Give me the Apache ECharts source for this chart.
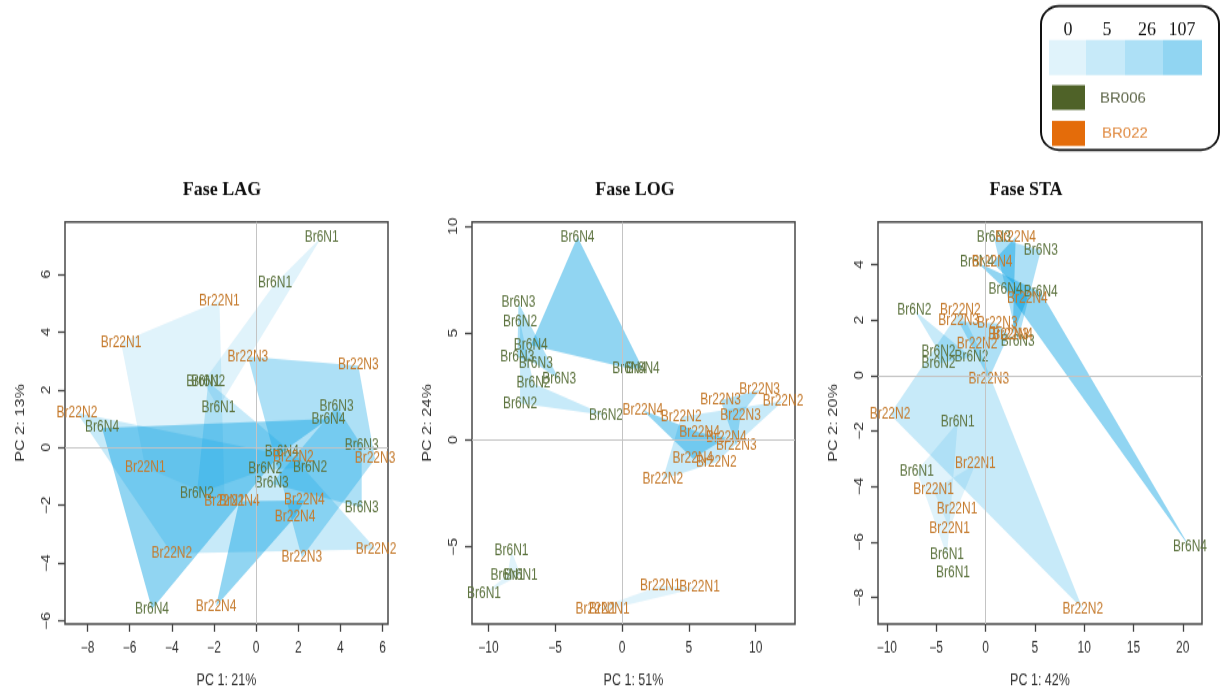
<!DOCTYPE html>
<html>
<head>
<meta charset="utf-8">
<script src="https://cdn.jsdelivr.net/npm/echarts@6/dist/echarts.min.js"></script>
<style>
  html, body { margin: 0; padding: 0; background: #ffffff; overflow: hidden; }
  /* the plot canvas is drawn short and stretched vertically, as the figure panels are */
  #chart { position: absolute; left: 0; top: 0; width: 1222px; height: 532px;
           transform: scaleY(1.3); transform-origin: 0 0; }
</style>
</head>
<body>
<div id="chart"></div>
<script>
// ---------- data: PCA scores [label, PC1, PC2] per growth phase and strain ----------
const lagBR006 = [
  ['Br6N1', 3.11, 7.29], ['Br6N1', 0.90, 5.68], ['Br6N1', -2.51, 2.27], ['Br6N1', -1.79, 1.39],
  ['Br6N2', -2.27, 2.27], ['Br6N2', 2.56, -0.70], ['Br6N2', 0.43, -0.76], ['Br6N2', -2.81, -1.59],
  ['Br6N3', 3.82, 1.42], ['Br6N3', 5.01, 0.07], ['Br6N3', 5.01, -2.08], ['Br6N3', 0.74, -1.25],
  ['Br6N4', -7.31, 0.68], ['Br6N4', 3.43, 0.99], ['Br6N4', 1.22, -0.16], ['Br6N4', -4.94, -5.59]
];
const lagBR022 = [
  ['Br22N1', -1.74, 5.07], ['Br22N1', -6.41, 3.64], ['Br22N1', -5.26, -0.68], ['Br22N1', -1.50, -1.85],
  ['Br22N2', -8.50, 1.20], ['Br22N2', 1.77, -0.32], ['Br22N2', 5.69, -3.52], ['Br22N2', -4.00, -3.66],
  ['Br22N3', -0.39, 3.15], ['Br22N3', 4.85, 2.84], ['Br22N3', 5.64, -0.39], ['Br22N3', 2.17, -3.80],
  ['Br22N4', -0.80, -1.85], ['Br22N4', 2.29, -1.83], ['Br22N4', 1.85, -2.39], ['Br22N4', -1.90, -5.49]
];
const logBR006 = [
  ['Br6N1', -8.27, -5.19], ['Br6N1', -7.58, -6.31], ['Br6N1', -10.33, -7.21], ['Br6N1', -8.57, -6.31],
  ['Br6N2', -7.63, 5.53], ['Br6N2', -6.62, 2.64], ['Br6N2', -1.20, 1.15], ['Br6N2', -7.63, 1.71],
  ['Br6N3', -7.75, 6.42], ['Br6N3', -4.70, 2.84], ['Br6N3', -6.45, 3.57], ['Br6N3', -7.83, 3.88],
  ['Br6N4', -3.33, 9.50], ['Br6N4', 1.55, 3.34], ['Br6N4', 0.55, 3.34], ['Br6N4', -6.83, 4.44]
];
const logBR022 = [
  ['Br22N1', -1.95, -7.91], ['Br22N1', 2.87, -6.82], ['Br22N1', 5.80, -6.90], ['Br22N1', -0.95, -7.91],
  ['Br22N2', 4.43, 1.09], ['Br22N2', 12.05, 1.82], ['Br22N2', 7.05, -1.03], ['Br22N2', 3.05, -1.84],
  ['Br22N3', 7.37, 1.87], ['Br22N3', 10.30, 2.34], ['Br22N3', 8.87, 1.15], ['Br22N3', 8.55, -0.28],
  ['Br22N4', 1.55, 1.39], ['Br22N4', 5.80, 0.35], ['Br22N4', 7.80, 0.11], ['Br22N4', 5.30, -0.87]
];
const staBR006 = [
  ['Br6N1', -2.82, -1.70], ['Br6N1', -6.96, -3.44], ['Br6N1', -3.29, -7.12], ['Br6N1', -3.90, -6.47],
  ['Br6N2', -7.21, 2.34], ['Br6N2', -1.43, 0.66], ['Br6N2', -4.76, 0.43], ['Br6N2', -4.76, 0.87],
  ['Br6N3', 0.85, 4.99], ['Br6N3', 5.61, 4.51], ['Br6N3', 3.26, 1.23],
  ['Br6N4', -0.85, 4.08], ['Br6N4', 2.04, 3.09], ['Br6N4', 20.73, -6.20], ['Br6N4', 5.60, 3.00]
];
const staBR022 = [
  ['Br22N1', -1.02, -3.20], ['Br22N1', -5.27, -4.13], ['Br22N1', -3.64, -5.54], ['Br22N1', -2.89, -4.80],
  ['Br22N2', -9.68, -1.40], ['Br22N2', -2.55, 2.35], ['Br22N2', -0.85, 1.12], ['Br22N2', 9.86, -8.42],
  ['Br22N3', -2.72, 1.95], ['Br22N3', 1.19, 1.87], ['Br22N3', 2.35, 1.47], ['Br22N3', 0.34, -0.12],
  ['Br22N4', 3.06, 4.99], ['Br22N4', 0.68, 4.08], ['Br22N4', 4.25, 2.79], ['Br22N4', 2.75, 1.47]
];

const phaseTitles = ['Fase LAG', 'Fase LOG', 'Fase STA'];
const pcVariance = [[21, 13], [51, 24], [42, 20]];       // % explained by PC1, PC2
const lagXTicks = [-8, -6, -4, -2, 0, 2, 4, 6];
const lagYTicks = [-6, -4, -2, 0, 2, 4, 6];
const logXTicks = [-10, -5, 0, 5, 10];
const logYTicks = [-5, 0, 5, 10];
const staXTicks = [-10, -5, 0, 5, 10, 15, 20];
const staYTicks = [-8, -6, -4, -2, 0, 2, 4];
const nitrogenLevels = ['0', '5', '26', '107'];
const strainNames = ['BR006', 'BR022'];

// ---------- styling ----------
const S = 1.3;                                  // vertical stretch applied by CSS
const levelAlpha = [0.12, 0.22, 0.32, 0.43];    // fill opacity per nitrogen level
const levelFill = i => 'rgba(0,158,226,' + levelAlpha[i] + ')';
const strainText = ['#5e7440', '#c57a2c'];
const strainSwatch = ['#4f6228', '#e46c0a'];
const strainLegendText = ['#5d6548', '#e08a40'];
const SANS = '"Liberation Sans", Arial, sans-serif';
const SERIF = '"Liberation Serif", "Times New Roman", serif';
const fmt = v => (v < 0 ? '\u2212' + (-v) : String(v));

const panels = [
  { pts: [lagBR006, lagBR022], xTicks: lagXTicks, yTicks: lagYTicks, left: 65, width: 323, titleX: 222 },
  { pts: [logBR006, logBR022], xTicks: logXTicks, yTicks: logYTicks, left: 472, width: 323, titleX: 635 },
  { pts: [staBR006, staBR022], xTicks: staXTicks, yTicks: staYTicks, left: 878, width: 324, titleX: 1026 }
];

// axis limits padded by 4% of the data range on each side
function paddedRange(vals) {
  const lo = Math.min(...vals), hi = Math.max(...vals), d = (hi - lo) * 0.04;
  return [lo - d, hi + d];
}
// one polygon per strain x nitrogen-level group, vertices in data order
function groupPolygons(list) {
  const map = new Map();
  list.forEach(p => {
    if (!map.has(p[0])) map.set(p[0], []);
    map.get(p[0]).push([p[1], p[2]]);
  });
  return Array.from(map, ([name, pts]) => ({ name, level: +name.slice(-1) - 1, pts }));
}

const gridTop = 222 / S, gridH = (624 - 222) / S;
const grids = [], xAxes = [], yAxes = [], series = [];

panels.forEach((p, i) => {
  const all = p.pts[0].concat(p.pts[1]);
  const xr = paddedRange(all.map(d => d[1]));
  const yr = paddedRange(all.map(d => d[2]));
  grids.push({ left: p.left, top: gridTop, width: p.width, height: gridH, show: true,
               borderColor: '#4a4a4a', borderWidth: 1.5, backgroundColor: 'transparent',
               outerBoundsMode: 'none', containLabel: false });
  xAxes.push({
    gridIndex: i, type: 'value', min: xr[0], max: xr[1],
    name: 'PC 1: ' + pcVariance[i][0] + '%', nameLocation: 'middle', nameGap: 37,
    nameTextStyle: { fontSize: 12.5, color: '#333', fontFamily: SANS },
    axisLine: { show: false, onZero: false },
    splitLine: { show: false },
    axisTick: { show: true, length: 6, customValues: p.xTicks, lineStyle: { color: '#444', width: 1.3 } },
    axisLabel: { customValues: p.xTicks, formatter: fmt, margin: 13, fontSize: 12,
                 color: '#333', fontFamily: SANS, hideOverlap: false }
  });
  yAxes.push({
    gridIndex: i, type: 'value', min: yr[0], max: yr[1],
    name: 'PC 2: ' + pcVariance[i][1] + '%', nameLocation: 'middle', nameGap: 38,
    nameTextStyle: { fontSize: 12.5, color: '#333', fontFamily: SANS },
    axisLine: { show: false, onZero: false },
    splitLine: { show: false },
    axisTick: { show: true, length: 7, customValues: p.yTicks, lineStyle: { color: '#444', width: 1.3 } },
    axisLabel: { customValues: p.yTicks, formatter: fmt, rotate: 90, margin: 12, fontSize: 12,
                 color: '#333', fontFamily: SANS, hideOverlap: false }
  });

  // translucent polygons joining each group's points
  p.pts.forEach((list, s) => {
    const polys = groupPolygons(list);
    series.push({
      type: 'custom', xAxisIndex: i, yAxisIndex: i, silent: true, z: 2,
      data: polys.map(g => g.pts[0]),
      renderItem: (params, api) => {
        const g = polys[params.dataIndex];
        return { type: 'polygon', shape: { points: g.pts.map(v => api.coord(v)) },
                 style: { fill: levelFill(g.level) } };
      },
      markLine: s === 0 ? {
        silent: true, symbol: 'none', animation: false, label: { show: false },
        lineStyle: { color: '#c4c4c4', width: 1, type: 'solid' },
        data: [{ xAxis: 0 }, { yAxis: 0 }]
      } : undefined
    });
  });
  // sample labels at each score
  p.pts.forEach((list, s) => {
    series.push({
      type: 'custom', xAxisIndex: i, yAxisIndex: i, silent: true, z: 3,
      data: list.map(d => [d[1], d[2]]),
      renderItem: (params, api) => {
        const c = api.coord([api.value(0), api.value(1)]);
        return { type: 'text', x: c[0], y: c[1],
                 style: { text: list[params.dataIndex][0], fill: strainText[s], fontSize: 12,
                          fontFamily: SANS, align: 'center', verticalAlign: 'middle' } };
      }
    });
  });
});

// titles and legend keep normal proportions: drawn in page pixels, un-stretched
const overlay = [];
panels.forEach((p, i) => overlay.push({
  type: 'text', x: p.titleX, y: 190,
  style: { text: phaseTitles[i], fill: '#111', fontSize: 18, fontWeight: 'bold', fontFamily: SERIF,
           align: 'center', verticalAlign: 'middle' }
}));
overlay.push({ type: 'rect', shape: { x: 1041, y: 6, width: 178, height: 144, r: 18 },
               style: { fill: '#ffffff', stroke: '#111', lineWidth: 2 } });
const swX = [1049, 1086, 1125, 1163, 1202];
const numX = [1068, 1107, 1147, 1182];
nitrogenLevels.forEach((lv, i) => {
  overlay.push({ type: 'text', x: numX[i], y: 31,
                 style: { text: lv, fill: '#111', fontSize: 18, fontFamily: SERIF, align: 'center', verticalAlign: 'middle' } });
  overlay.push({ type: 'rect', shape: { x: swX[i], y: 40, width: swX[i + 1] - swX[i], height: 35 },
                 style: { fill: levelFill(i) } });
});
strainNames.forEach((nm, i) => {
  const y = 85 + i * 36;
  overlay.push({ type: 'rect', shape: { x: 1052, y: y, width: 33, height: 25 }, style: { fill: strainSwatch[i] } });
  overlay.push({ type: 'text', x: 1100 + i * 2, y: y + 13,
                 style: { text: nm, fill: strainLegendText[i], fontSize: 15, fontFamily: SANS, align: 'left', verticalAlign: 'middle' } });
});

const chart = echarts.init(document.getElementById('chart'), null, { renderer: 'canvas' });
chart.setOption({
  animation: false,
  backgroundColor: '#ffffff',
  grid: grids, xAxis: xAxes, yAxis: yAxes, series: series,
  graphic: [{ type: 'group', x: 0, y: 0, scaleY: 1 / S, silent: true, children: overlay }]
});
</script>
</body>
</html>
